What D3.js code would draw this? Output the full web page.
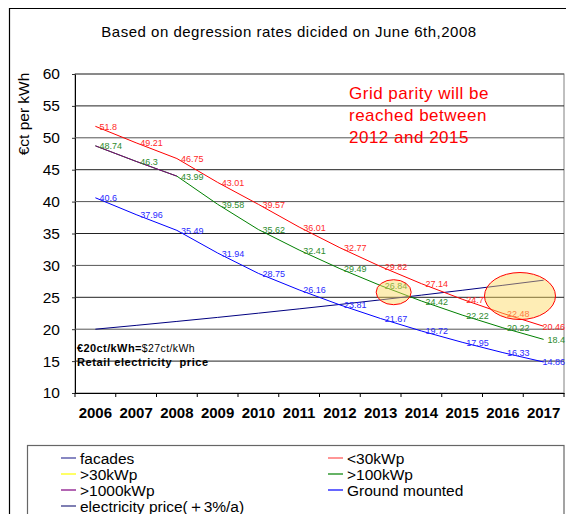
<!DOCTYPE html>
<html><head><meta charset="utf-8">
<script src="https://cdn.jsdelivr.net/npm/d3@7"></script>
<style>
html,body{margin:0;padding:0;background:#fff;}
svg{display:block;font-family:"Liberation Sans",Arial,sans-serif;}
</style></head>
<body>
<svg id="c" width="566" height="514"></svg>
<script>
const years = [2006,2007,2008,2009,2010,2011,2012,2013,2014,2015,2016,2017];
const under30 = [51.8,49.21,46.75,43.01,39.57,36.01,32.77,29.82,27.14,24.7,22.48,20.46];
const over100 = [48.74,46.3,43.99,39.58,35.62,32.41,29.49,26.84,24.42,22.22,20.22,18.4];
const over1000 = [48.74,46.3,43.99];
const ground = [40.6,37.96,35.49,31.94,28.75,26.16,23.81,21.67,19.72,17.95,16.33,14.86];
const elecPrice = [20,20.6,21.22,21.85,22.51,23.19,23.88,24.6,25.34,26.1,26.88,27.68];
const yTicks = [10,15,20,25,30,35,40,45,50,55,60];
const legendNames = ["facades","<30kWp",">30kWp",">100kWp",">1000kWp","Ground mounted","electricity price(＋3%/a)"];
const legendColors = ["#3a3a9a","#ff5050","#ffff00","#008000","#800080","#0000ff","#2a2a80"];

const svg = d3.select("#c");
const L = 75, R = 564, T = 74, B = 393;
const x = d3.scaleBand().domain(years).range([L,R]).padding(0);
const y = d3.scaleLinear().domain([10,60]).range([B,T]);
const cx = yr => x(yr) + x.bandwidth()/2;

// outer border
svg.append("path").attr("d","M9.5,514 V8.5 H566").attr("fill","none").attr("stroke","#000").attr("stroke-width",1.2);

// title
svg.append("text").attr("x",289).attr("y",37).attr("text-anchor","middle")
  .attr("font-size",15).attr("letter-spacing",0.5).attr("fill","#000").text("Based on degression rates dicided on June 6th,2008");

// plot frame
svg.append("rect").attr("x",L).attr("y",T).attr("width",R-L).attr("height",B-T)
  .attr("fill","none").attr("stroke","#808080").attr("stroke-width",1);

// gridlines + y axis
const ya = d3.axisLeft(y).tickValues(yTicks).tickSize(3).tickPadding(12).tickFormat(d3.format("d"));
const gy = svg.append("g").attr("transform",`translate(${L},0)`).call(ya);
gy.select(".domain").attr("stroke","#000");
gy.selectAll(".tick line").attr("stroke","#333");
gy.selectAll(".tick text").attr("font-size",15.5).attr("fill","#000").attr("font-family","Liberation Sans, Arial, sans-serif");
svg.append("g").selectAll("line").data(yTicks.slice(1)).join("line")
  .attr("x1",L).attr("x2",R).attr("y1",d=>y(d)).attr("y2",d=>y(d))
  .attr("stroke",(d,i)=> i%2? "#555":"#222").attr("stroke-width",1);

// x axis
const xa = d3.axisBottom(x).tickSize(0).tickPadding(14);
const gx = svg.append("g").attr("transform",`translate(0,${B})`).call(xa);
gx.select(".domain").attr("stroke","#000");
gx.selectAll(".tick text").attr("font-size",15).attr("fill","#000").attr("font-weight","bold").attr("font-family","Liberation Sans, Arial, sans-serif");
const bnd = d3.scaleLinear().domain([0,years.length]).range([L,R]);
svg.append("g").selectAll("line").data(d3.range(years.length+1)).join("line")
  .attr("x1",d=>bnd(d)).attr("x2",d=>bnd(d)).attr("y1",B).attr("y2",B+4)
  .attr("stroke","#000");

// y axis title
svg.append("text").attr("transform",`translate(29,${114}) rotate(-90)`).attr("text-anchor","middle")
  .attr("font-size",15.5).attr("fill","#000").text("€ct per kWh");

// lines
const line = d3.line().x((d,i)=>cx(years[i])).y(d=>y(d));
const series = [
  {v: elecPrice, c:"#000080", labels:false},
  {v: ground, c:"#0000ff", lc:"#2a2aff", labels:true},
  {v: over100, c:"#008000", lc:"#2e8b2e", labels:true},
  {v: under30, c:"#ff0000", lc:"#ff2a2a", labels:true},
  {v: over1000, c:"#800080", labels:false}
];
series.forEach(s=>{
  svg.append("path").datum(s.v).attr("d",line).attr("fill","none").attr("stroke",s.c).attr("stroke-width",1);
});
const last = years.length - 1;
series.filter(s=>s.labels).forEach(s=>{
  svg.append("g").selectAll("text").data(s.v).join("text")
    .attr("x",(d,i)=> i===last ? 565 : cx(years[i])+4)
    .attr("text-anchor",(d,i)=> i===last ? "end" : "start")
    .attr("y",(d)=>y(d)+3.5)
    .attr("font-size",9).attr("fill",s.lc).text(d=>d);
});

// ellipses (grid parity highlights)
const ellipses = [
  {yr:2013, f:0.82, val:25.8, rx:17.5, ry:12.5},
  {yr:2016, f:0.92, val:25.2, rx:35.5, ry:23.5}
];
svg.append("g").selectAll("ellipse").data(ellipses).join("ellipse")
  .attr("cx",d=>x(d.yr)+d.f*x.bandwidth()).attr("cy",d=>y(d.val))
  .attr("rx",d=>d.rx).attr("ry",d=>d.ry)
  .attr("fill","rgba(252,215,90,0.45)").attr("stroke","#ff0000").attr("stroke-width",1);

// grid parity annotation
const ann = ["Grid parity will be","reached between","2012 and 2015"];
svg.append("g").selectAll("text").data(ann).join("text")
  .attr("x",349).attr("y",(d,i)=>99+i*22).attr("font-size",17).attr("letter-spacing",0.5)
  .attr("fill","#ff0000").text(d=>d);

// retail price note
const t1 = svg.append("text").attr("x",77).attr("y",352).attr("fill","#000");
t1.append("tspan").attr("font-size",11).attr("font-weight","bold").attr("letter-spacing",0.4).text("€20ct/kWh=");
t1.append("tspan").attr("font-size",10.5).attr("letter-spacing",0.4).text("$27ct/kWh");
svg.append("text").attr("x",77).attr("y",366).attr("font-size",11).attr("font-weight","bold")
  .attr("letter-spacing",0.6).attr("fill","#000")
  .attr("xml:space","preserve").text("Retail electricity  price");

// legend
svg.append("rect").attr("x",27.5).attr("y",445.5).attr("width",R-27.5).attr("height",80)
  .attr("fill","none").attr("stroke","#666").attr("stroke-width",1.2);
const lg = svg.append("g").selectAll("g").data(legendNames).join("g")
  .attr("transform",(d,i)=>`translate(${i%2?328:61},${458+Math.floor(i/2)*16})`);
lg.append("line").attr("x1",0).attr("x2",15).attr("y1",0).attr("y2",0)
  .attr("stroke",(d,i)=>legendColors[i]).attr("stroke-width",1.2);
lg.append("text").attr("x",19).attr("y",5.5).attr("font-size",15.5).attr("fill","#000").text(d=>d);
</script>
</body></html>
